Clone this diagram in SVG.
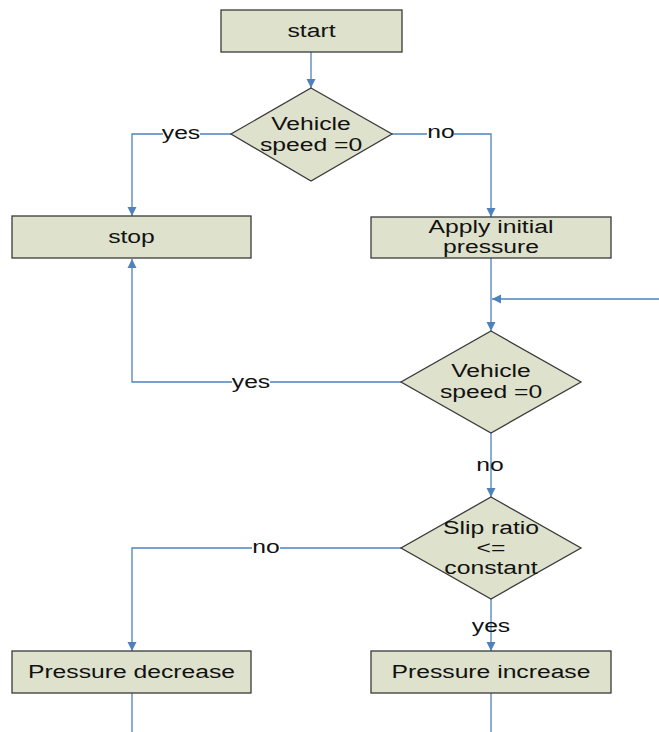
<svg xmlns="http://www.w3.org/2000/svg" width="659" height="732" viewBox="0 0 659 732">
  <style>
    .box { fill: #dee1cb; stroke: #3a3a3a; stroke-width: 1.3; }
    .wire { fill: none; stroke: #4f81bd; stroke-width: 1.3; }
    .t { font-family: "Liberation Sans", Arial, sans-serif; font-size: 19px; fill: #111; text-anchor: middle; }
    .bg { fill: #ffffff; }
  </style>
  <defs>
    <marker id="arrow" viewBox="0 0 10 10" refX="10" refY="5" markerWidth="9" markerHeight="10" markerUnits="userSpaceOnUse" orient="auto">
      <path d="M0,0 L10,5 L0,10 Z" fill="#4f81bd"/>
    </marker>
  </defs>

  <rect width="659" height="732" fill="#ffffff"/>

  <!-- connectors -->
  <g id="connectors">
    <path class="wire" d="M311,52 V88" marker-end="url(#arrow)"/>
    <path class="wire" d="M231,134 H132 V216" marker-end="url(#arrow)"/>
    <path class="wire" d="M392,134 H491 V217" marker-end="url(#arrow)"/>
    <path class="wire" d="M491,258 V331" marker-end="url(#arrow)"/>
    <path class="wire" d="M659,299 H492" marker-end="url(#arrow)"/>
    <path class="wire" d="M401,382 H132 V259" marker-end="url(#arrow)"/>
    <path class="wire" d="M491,433 V497" marker-end="url(#arrow)"/>
    <path class="wire" d="M401,548 H132 V651" marker-end="url(#arrow)"/>
    <path class="wire" d="M491,599 V651" marker-end="url(#arrow)"/>
    <path class="wire" d="M132,693 V732"/>
    <path class="wire" d="M491,693 V732"/>

    <!-- branch labels -->
    <rect class="bg" x="163" y="124" width="37" height="20"/>
    <text class="t" transform="translate(181,139) scale(1.3,1)">yes</text>
    <rect class="bg" x="427" y="124" width="27" height="20"/>
    <text class="t" transform="translate(441,138) scale(1.3,1)">no</text>
    <rect class="bg" x="232" y="372" width="38" height="20"/>
    <text class="t" transform="translate(251,388) scale(1.3,1)">yes</text>
    <text class="t" transform="translate(490,471) scale(1.3,1)">no</text>
    <rect class="bg" x="252" y="538" width="28" height="20"/>
    <text class="t" transform="translate(266,553) scale(1.3,1)">no</text>
    <text class="t" transform="translate(491,632) scale(1.3,1)">yes</text>
  </g>

  <!-- nodes -->
  <g id="start">
    <rect class="box" x="221" y="10" width="181" height="42"/>
    <text class="t" transform="translate(311.5,37) scale(1.3,1)">start</text>
  </g>

  <g id="speed-check-1">
    <polygon class="box" points="311,88 392,134 311,181 231,134"/>
    <text class="t" transform="translate(311,130) scale(1.3,1)">Vehicle</text>
    <text class="t" transform="translate(311,151) scale(1.3,1)">speed =0</text>
  </g>

  <g id="stop">
    <rect class="box" x="12" y="216" width="239" height="42"/>
    <text class="t" transform="translate(131.5,243) scale(1.3,1)">stop</text>
  </g>

  <g id="apply-pressure">
    <rect class="box" x="371" y="217" width="240" height="41"/>
    <text class="t" transform="translate(491,233) scale(1.3,1)">Apply initial</text>
    <text class="t" transform="translate(491,253) scale(1.3,1)">pressure</text>
  </g>

  <g id="speed-check-2">
    <polygon class="box" points="491,331 581,382 491,433 401,382"/>
    <text class="t" transform="translate(491,377) scale(1.3,1)">Vehicle</text>
    <text class="t" transform="translate(491,398) scale(1.3,1)">speed =0</text>
  </g>

  <g id="slip-check">
    <polygon class="box" points="491,497 581,548 491,599 401,548"/>
    <text class="t" transform="translate(491,534) scale(1.3,1)">Slip ratio</text>
    <text class="t" transform="translate(491,554) scale(1.3,1)">&lt;=</text>
    <text class="t" transform="translate(491,574) scale(1.3,1)">constant</text>
  </g>

  <g id="pressure-decrease">
    <rect class="box" x="12" y="651" width="239" height="42"/>
    <text class="t" transform="translate(131.5,678) scale(1.3,1)">Pressure decrease</text>
  </g>

  <g id="pressure-increase">
    <rect class="box" x="371" y="651" width="240" height="42"/>
    <text class="t" transform="translate(491,678) scale(1.3,1)">Pressure increase</text>
  </g>
</svg>
